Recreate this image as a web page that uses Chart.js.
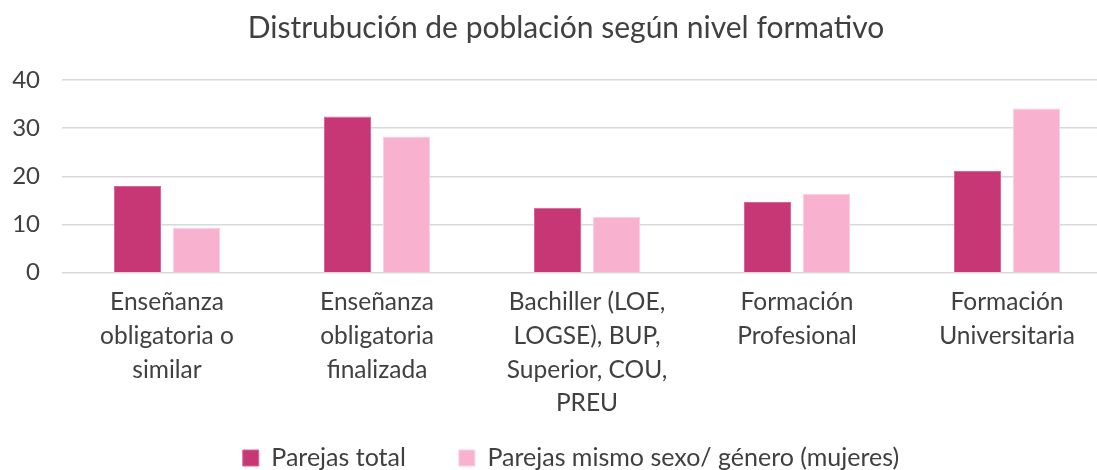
<!DOCTYPE html>
<html>
<head>
<meta charset="utf-8">
<script src="https://cdn.jsdelivr.net/npm/chart.js@4.4.0/dist/chart.umd.min.js"></script>
<style>
  html, body { margin: 0; padding: 0; background: #fff; overflow: hidden; }
  /* the source chart is a bit wider than the picture, its right edge is cut off */
  #wrap { width: 1132px; height: 513px; position: relative; }
</style>
</head>
<body>
<div id="wrap"><canvas id="chart"></canvas></div>
<script>
// categories and series
const categories = [
    ['Enseñanza', 'obligatoria o', 'similar'],
    ['Enseñanza', 'obligatoria', 'finalizada'],
    ['Bachiller (LOE,', 'LOGSE), BUP,', 'Superior, COU,', 'PREU'],
    ['Formación', 'Profesional'],
    ['Formación', 'Universitaria']
];
const parejasTotal = [18.0, 32.4, 13.5, 14.7, 21.1];
const parejasMismoSexo = [9.3, 28.3, 11.6, 16.4, 34.1];
const yTicks = [0, 10, 20, 30, 40];

const textColor = '#404040';
const fontFamily = 'Lato, "Open Sans", sans-serif';

// legend padding is also used above the items, pull the legend up a bit;
// title and legend are centred on the whole chart box, not from x=0
const blockTweaks = {
    id: 'blockTweaks',
    afterLayout(chart) {
        const lg = chart.legend;
        if (lg) {
            lg.top -= 32.5;
            lg.bottom -= 32.5;
            lg.left += 30;
        }
        if (chart.titleBlock) chart.titleBlock.left += 20;
    }
};

new Chart(document.getElementById('chart'), {
    type: 'bar',
    data: {
        labels: categories,
        datasets: [{
            label: 'Parejas total',
            data: parejasTotal,
            backgroundColor: '#c83775',
            borderColor: '#d8659a',
            borderWidth: 1,
            categoryPercentage: 0.562,
            barPercentage: 0.797
        }, {
            label: 'Parejas mismo sexo/ género (mujeres)',
            data: parejasMismoSexo,
            backgroundColor: '#f8b2d0',
            borderColor: '#fbd0e2',
            borderWidth: 1,
            categoryPercentage: 0.562,
            barPercentage: 0.797
        }]
    },
    plugins: [blockTweaks],
    options: {
        responsive: true,
        maintainAspectRatio: false,
        animation: false,
        layout: { padding: { left: 0, right: 20, top: 0, bottom: 0 } },
        plugins: {
            title: {
                display: true,
                text: 'Distrubución de población según nivel formativo',
                color: textColor,
                font: { family: fontFamily, size: 30, weight: 'normal', lineHeight: 1.2 },
                padding: { top: 10, bottom: 34 }
            },
            legend: {
                position: 'bottom',
                labels: {
                    color: textColor,
                    font: { family: fontFamily, size: 25 },
                    boxWidth: 16,
                    boxHeight: 16,
                    padding: 53
                }
            },
            tooltip: { enabled: false }
        },
        scales: {
            x: {
                grid: { display: false },
                border: { display: false },
                ticks: {
                    color: textColor,
                    font: { family: fontFamily, size: 24.5, lineHeight: 1.37 },
                    maxRotation: 0,
                    autoSkip: false,
                    padding: 5
                }
            },
            y: {
                min: 0,
                max: 40,
                afterBuildTicks: axis => { axis.ticks = yTicks.map(v => ({ value: v })); },
                grid: { color: '#d9d9d9', lineWidth: 1.5, drawTicks: false },
                border: { display: false },
                ticks: {
                    color: textColor,
                    font: { family: fontFamily, size: 24 },
                    padding: 22
                },
                afterFit: axis => { axis.width = 62; }
            }
        }
    }
});
</script>
</body>
</html>
